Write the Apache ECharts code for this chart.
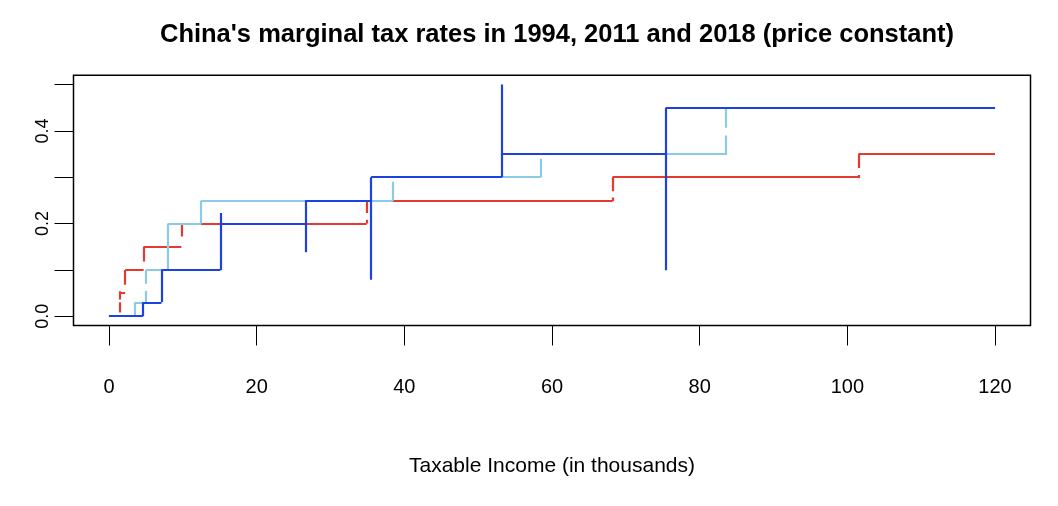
<!DOCTYPE html>
<html>
<head>
<meta charset="utf-8">
<script src="https://cdn.jsdelivr.net/npm/echarts@6/dist/echarts.min.js"></script>
<style>
html,body{margin:0;padding:0;background:#fff;}
#chart{width:1058px;height:506px;}
</style>
</head>
<body>
<div id="chart"></div>
<script>
// ---- data (income in thousands, marginal rate) ----
const xTicks = [0, 20, 40, 60, 80, 100, 120];
const yTicks = [0, 0.1, 0.2, 0.3, 0.4, 0.5];
const yLabels = [0, 0.2, 0.4];

// 1994 (red): breakpoints and rates
const x1994 = [0, 1.4, 2.2, 4.7, 9.8, 34.9, 68.2, 101.5, 120];
const r1994 = [0, 0.05, 0.10, 0.15, 0.20, 0.25, 0.30, 0.35];
// vertical pieces as drawn [x, from, to]
const v1994 = [[1.4, 0.008, 0.030], [1.4, 0.036, 0.054], [2.2, 0.068, 0.10],
               [4.7, 0.118, 0.15], [9.8, 0.172, 0.20], [34.9, 0.200, 0.208],
               [34.9, 0.223, 0.25], [68.2, 0.248, 0.256], [68.2, 0.270, 0.30],
               [101.5, 0.298, 0.305], [101.5, 0.320, 0.35]];

// 2011 (light blue)
const x2011 = [0, 3.5, 5.0, 8.0, 12.5, 38.5, 58.5, 83.5, 120];
const r2011 = [0, 0.03, 0.10, 0.20, 0.25, 0.30, 0.35, 0.45];
const v2011 = [[3.5, 0, 0.03], [5.0, 0.03, 0.055], [5.0, 0.070, 0.10],
               [8.0, 0.10, 0.20], [12.5, 0.20, 0.25], [38.5, 0.25, 0.29],
               [58.5, 0.30, 0.34], [83.5, 0.348, 0.39], [83.5, 0.407, 0.45]];

// 2018 (blue)
const x2018 = [0, 4.6, 7.1, 15.1, 26.6, 35.5, 53.2, 75.4, 120];
const r2018 = [0, 0.03, 0.10, 0.20, 0.25, 0.30, 0.35, 0.45];
const v2018 = [[4.6, 0, 0.03], [7.1, 0.03, 0.10], [15.1, 0.10, 0.223],
               [26.6, 0.138, 0.25], [35.5, 0.079, 0.30], [53.2, 0.30, 0.50],
               [75.4, 0.099, 0.45]];

function segs(xs, rs, vs) {
  const out = [];
  for (let i = 0; i < rs.length; i++) out.push({coords: [[xs[i], rs[i]], [xs[i + 1], rs[i]]]});
  vs.forEach(v => out.push({coords: [[v[0], v[1]], [v[0], v[2]]]}));
  return out;
}
function series(name, xs, rs, vs, color, width, z) {
  return {
    name: name, type: 'lines', coordinateSystem: 'cartesian2d', polyline: false,
    z: z, silent: true, animation: false,
    lineStyle: {color: color, width: width, opacity: 1, cap: 'butt'},
    data: segs(xs, rs, vs)
  };
}

const chart = echarts.init(document.getElementById('chart'), null, {renderer: 'canvas'});
const font = 'Liberation Sans, Arial, sans-serif';
chart.setOption({
  animation: false,
  backgroundColor: '#fff',
  title: {
    text: "China's marginal tax rates in 1994, 2011 and 2018 (price constant)",
    left: 552, textAlign: 'center', top: 17,
    textStyle: {fontFamily: font, fontWeight: 'bold', fontSize: 25.5, color: '#000'}
  },
  grid: {
    left: 73.5, right: 27.5, top: 75.3, bottom: 180.5,
    show: true, borderColor: '#000', borderWidth: 1.5, backgroundColor: 'transparent'
  },
  xAxis: {
    type: 'value', min: -4.8, max: 124.8,
    name: 'Taxable Income (in thousands)', nameLocation: 'middle', nameGap: 130,
    nameTextStyle: {fontFamily: font, fontSize: 21, color: '#000', verticalAlign: 'top'},
    axisLine: {show: false, onZero: false},
    splitLine: {show: false},
    axisTick: {show: true, length: 20, customValues: xTicks, lineStyle: {color: '#000', width: 1}},
    axisLabel: {customValues: xTicks, margin: 52, fontFamily: font, fontSize: 20, color: '#000'}
  },
  yAxis: {
    type: 'value', min: -0.02, max: 0.52,
    axisLine: {show: false, onZero: false},
    splitLine: {show: false},
    axisTick: {show: true, length: 19, customValues: yTicks, lineStyle: {color: '#000', width: 1}},
    axisLabel: {customValues: yLabels, rotate: 90, margin: 21, fontFamily: font, fontSize: 18, color: '#000',
      formatter: v => v.toFixed(1)}
  },
  series: [
    series('1994', x1994, r1994, v1994, '#e53b2f', 2.2, 2),
    series('2011', x2011, r2011, v2011, '#8ccbe6', 2.2, 3),
    series('2018', x2018, r2018, v2018, '#1d42e0', 2.2, 4)
  ]
});
</script>
</body>
</html>
